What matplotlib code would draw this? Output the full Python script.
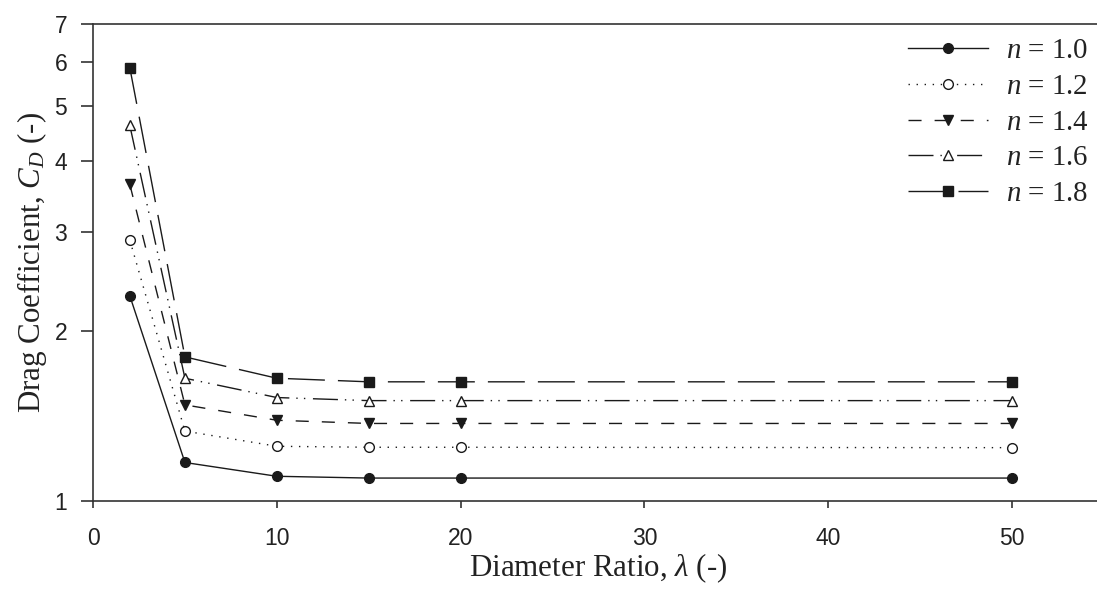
import matplotlib
matplotlib.use("Agg")
import matplotlib.pyplot as plt
from matplotlib.ticker import FixedLocator, NullLocator

# diameter ratio values (x) and drag coefficient for each power-law index n
diameter_ratio = [2, 5, 10, 15, 20, 50]
n_labels = ["1.0", "1.2", "1.4", "1.6", "1.8"]
cd_n10 = [2.31, 1.17, 1.106, 1.098, 1.098, 1.098]
cd_n12 = [2.90, 1.33, 1.25, 1.245, 1.245, 1.243]
cd_n14 = [3.64, 1.48, 1.39, 1.372, 1.372, 1.372]
cd_n16 = [4.63, 1.65, 1.525, 1.506, 1.506, 1.506]
cd_n18 = [5.86, 1.80, 1.65, 1.626, 1.626, 1.626]

y_ticks = [1, 2, 3, 4, 5, 6, 7]
x_ticks = [0, 10, 20, 30, 40, 50]

plt.rcParams["mathtext.fontset"] = "custom"
plt.rcParams["mathtext.rm"] = "Liberation Serif"
plt.rcParams["mathtext.it"] = "Liberation Serif:italic"

INK = "#1a1a1a"
series = [cd_n10, cd_n12, cd_n14, cd_n16, cd_n18]
markers = ["o", "o", "v", "^", "s"]
faces = [INK, "white", INK, "white", INK]
dashes = [None, (1, 4.8), (9.4, 9.4), (18, 5, 1, 4.5, 1, 5.5), (26.6, 9.4)]

fig = plt.figure(figsize=(10.97, 5.94), dpi=100)
ax = fig.add_axes([0.0848, 0.1566, 0.9216, 0.803])

for vals, lab, mk, fc, ds in zip(series, n_labels, markers, faces, dashes):
    line, = ax.plot(diameter_ratio, vals, color=INK, lw=1.0, marker=mk,
                    markersize=7, markerfacecolor=fc, markeredgecolor=INK,
                    markeredgewidth=1.0, label=f"$n$ = {lab}")
    if ds is not None:
        line.set_dashes(ds)

ax.set_yscale("log")
ax.set_ylim(1, 7)
ax.set_xlim(0, 55)
ax.yaxis.set_major_locator(FixedLocator(y_ticks))
ax.yaxis.set_minor_locator(NullLocator())
ax.set_yticklabels([str(t) for t in y_ticks])
ax.set_xticks(x_ticks)

for side in ax.spines:
    ax.spines[side].set_color("#333333")
    ax.spines[side].set_linewidth(1.2)
# the right edge is cut off in the original figure
ax.spines["right"].set_visible(False)

for lbl in ax.get_xticklabels() + ax.get_yticklabels():
    lbl.set_fontfamily("Liberation Sans")
    lbl.set_fontsize(16.5)
    lbl.set_color("#222222")
ax.tick_params(axis="y", direction="out", length=8.6, width=1.2, pad=10, colors="#333333", labelcolor="#222222")
ax.tick_params(axis="x", direction="out", length=5, width=1.2, pad=14, colors="#333333", labelcolor="#222222")

ax.set_xlabel(r"Diameter Ratio, $\lambda$ (-)", fontfamily="Liberation Serif", fontsize=22.3, color="#222222", labelpad=1)
ax.set_ylabel(r"Drag Coefficient, $C_D$ (-)", fontfamily="Liberation Serif", fontsize=22.3, color="#222222", labelpad=4)

leg = ax.legend(loc="upper right", bbox_to_anchor=(0.996, 0.995), frameon=False,
                prop={"family": "Liberation Serif", "size": 20.8},
                handlelength=2.75, handletextpad=0.62, labelspacing=0.33, borderaxespad=0)
for t in leg.get_texts():
    t.set_color("#222222")

fig.savefig("out.png", dpi=100)
